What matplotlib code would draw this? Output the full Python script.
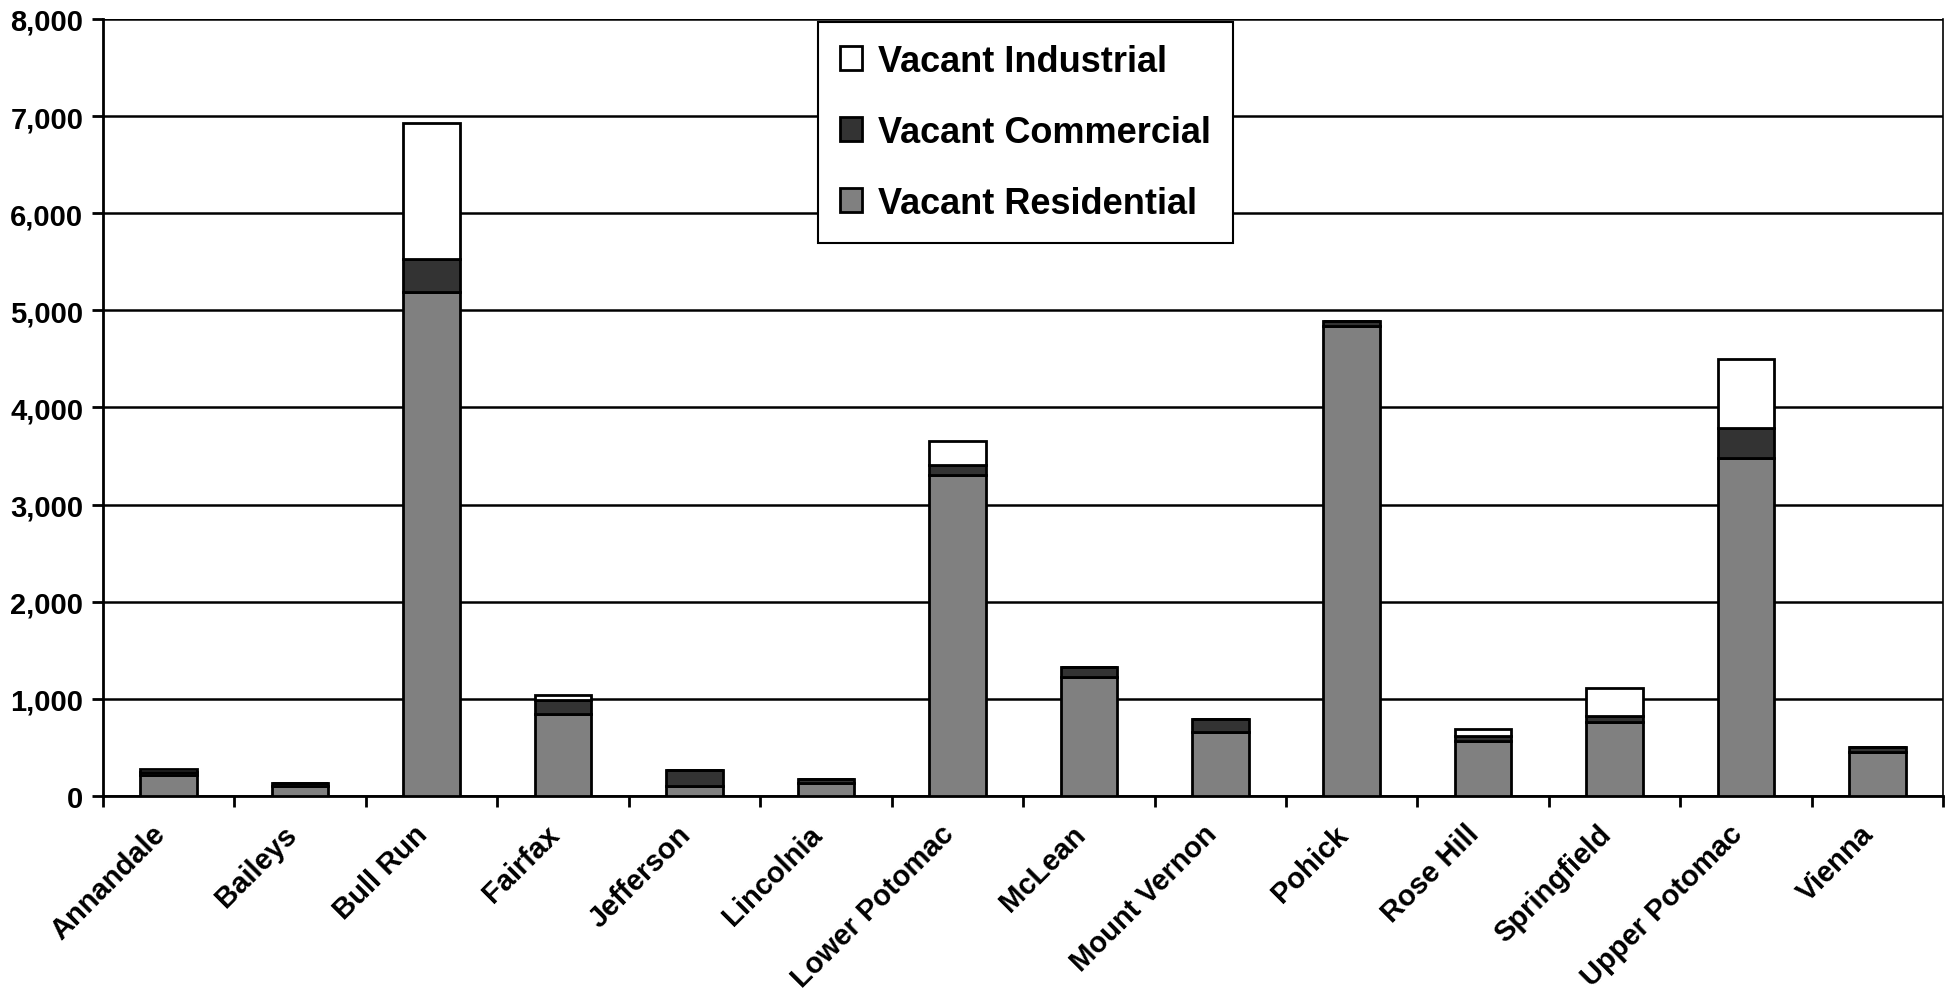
import numpy as np
import matplotlib
matplotlib.use("Agg")
import matplotlib.pyplot as plt
import matplotlib.transforms as mtransforms
from matplotlib.ticker import FuncFormatter, FixedLocator

plt.rcParams['font.family'] = ['Liberation Sans', 'DejaVu Sans']
plt.rcParams['font.weight'] = 'bold'

districts = ["Annandale", "Baileys", "Bull Run", "Fairfax", "Jefferson", "Lincolnia",
             "Lower Potomac", "McLean", "Mount Vernon", "Pohick", "Rose Hill",
             "Springfield", "Upper Potomac", "Vienna"]
residential = [215, 100, 5190, 840, 105, 130, 3305, 1225, 655, 4840, 565, 765, 3480, 455]
commercial = [35, 32, 340, 150, 160, 50, 105, 100, 140, 50, 55, 60, 305, 50]
industrial = [32, 0, 1400, 50, 0, 0, 240, 0, 0, 0, 65, 285, 710, 0]

fig = plt.figure(figsize=(19.53, 9.95), dpi=100)
ax = fig.add_axes([0.0527, 0.199, 0.9423, 0.781])

x = np.arange(len(districts))
res = np.array(residential)
com = np.array(commercial)
ind = np.array(industrial)
w = 0.43

b1 = ax.bar(x, res, w, color="#808080", edgecolor="black", linewidth=2, zorder=3,
            label="Vacant Residential")
b2 = ax.bar(x, com, w, bottom=res, color="#333333", edgecolor="black", linewidth=2,
            zorder=3, label="Vacant Commercial")
b3 = ax.bar(x, ind, w, bottom=res + com, color="white", edgecolor="black", linewidth=2,
            zorder=3, label="Vacant Industrial")

ax.set_xlim(-0.5, len(districts) - 0.5)
ax.set_ylim(0, 8000)
ax.set_yticks(np.arange(0, 8001, 1000))
ax.yaxis.set_major_formatter(FuncFormatter(lambda v, p: f"{int(v):,}"))
ax.yaxis.grid(True, color="black", linewidth=1.8, zorder=0)

ax.set_xticks(x)
ax.set_xticklabels(districts, rotation=45, ha="right", rotation_mode="anchor",
                   fontsize=21, fontweight="bold")
ax.tick_params(axis="x", which="major", length=0, pad=17)
shift = mtransforms.ScaledTranslation(-18 / 100, 0, fig.dpi_scale_trans)
for lab in ax.get_xticklabels():
    lab.set_transform(lab.get_transform() + shift)
ax.xaxis.set_minor_locator(FixedLocator(np.arange(-0.5, len(districts), 1.0)))
ax.tick_params(axis="x", which="minor", length=8, width=2, direction="out")
ax.tick_params(axis="y", length=8, width=2, direction="out", labelsize=21, pad=6)
for lab in ax.get_yticklabels():
    lab.set_fontweight("bold")

for s in ["left", "bottom"]:
    ax.spines[s].set_linewidth(2)
for s in ["top", "right"]:
    ax.spines[s].set_visible(False)
ax.plot([1, 1], [0, 1], transform=ax.transAxes, color="black", linewidth=1.2,
        clip_on=False)

leg = ax.legend(handles=[b3, b2, b1], loc="upper left", bbox_to_anchor=(0.3886, 0.996),
                borderaxespad=0, fontsize=26, frameon=True, fancybox=False,
                edgecolor="black", framealpha=1, handlelength=0.62, handleheight=0.62,
                labelspacing=1.0, borderpad=0.6, handletextpad=0.45)
leg.get_frame().set_linewidth(1.5)
for t in leg.get_texts():
    t.set_fontweight("bold")
leg.set_zorder(5)

fig.savefig("out.png", dpi=100)
